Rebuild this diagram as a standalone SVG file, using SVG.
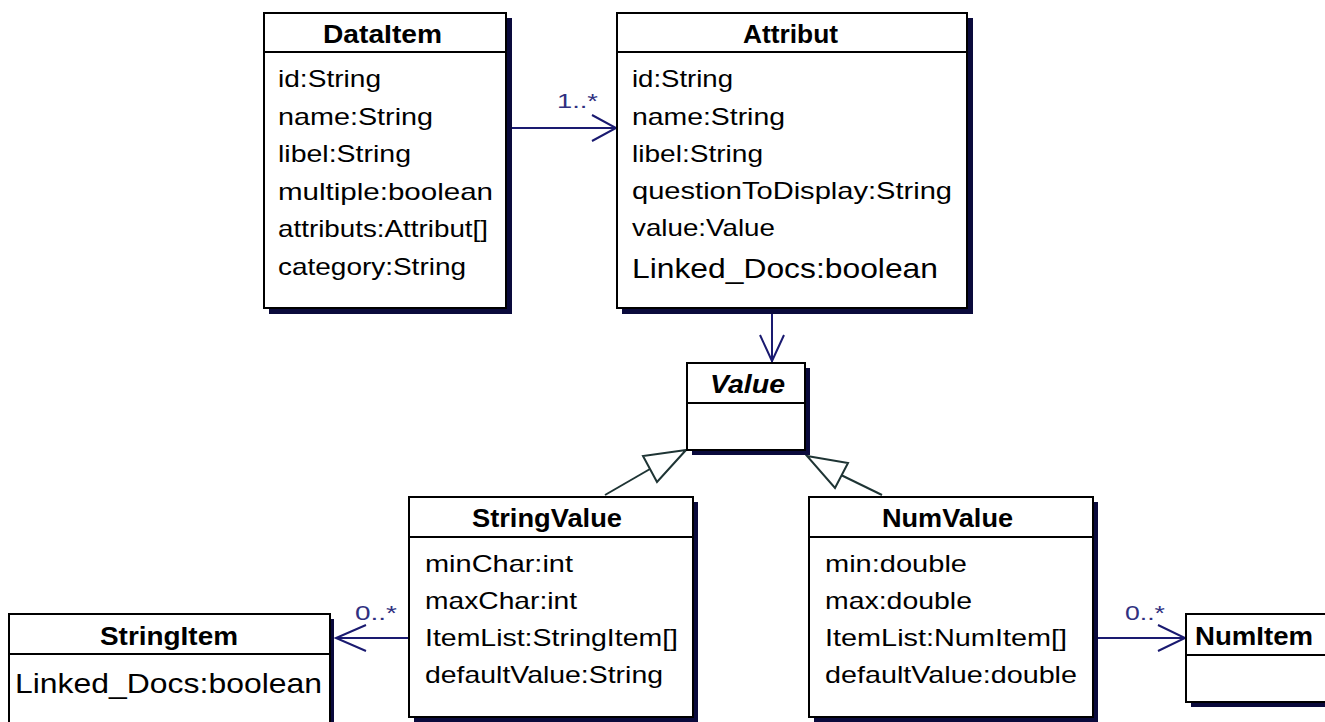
<svg xmlns="http://www.w3.org/2000/svg" width="1325" height="722" viewBox="0 0 1325 722">
<defs>
<style>
.box{fill:#fff;stroke:#000;stroke-width:2}
.sh{fill:#0a0a3c}
.div{stroke:#000;stroke-width:2}
.t{font-family:"Liberation Sans",Arial,sans-serif;font-size:25px;font-weight:bold;fill:#000}
.a{font-family:"Liberation Sans",Arial,sans-serif;font-size:24px;fill:#000}
.b{font-family:"Liberation Sans",Arial,sans-serif;font-size:28px;fill:#000}
.m{font-family:"Liberation Sans",Arial,sans-serif;font-size:20px;fill:#303080}
.assoc{stroke:#1a1a70;stroke-width:2;fill:none}
.gen{stroke:#1e3434;stroke-width:2;fill:none}
.tri{stroke:#1e3434;stroke-width:2;fill:#fff}
</style>
</defs>
<rect width="1325" height="722" fill="#fff"/>

<g id="connectors">
<path class="assoc" d="M512,128 H616 M592,115 L616,128 L592,141"/>
<path class="assoc" d="M772,314 V362 M760,335 L772,361 L784,335"/>
<path class="gen" d="M605,495 L650,469"/>
<polygon class="tri" points="686,450 643,456 657,482"/>
<path class="gen" d="M882,495 L841,475"/>
<polygon class="tri" points="807,456 848,463 835,488"/>
<path class="assoc" d="M409,638 H336 M366,625 L336,638 L366,651"/>
<path class="assoc" d="M1098,638 H1185 M1158,625 L1185,638 L1158,651"/>
<text class="m" x="557" y="108" textLength="41" lengthAdjust="spacingAndGlyphs">1..*</text>
<text class="m" x="355" y="620" textLength="42" lengthAdjust="spacingAndGlyphs">0..*</text>
<text class="m" x="1125" y="620" textLength="40" lengthAdjust="spacingAndGlyphs">0..*</text>
</g>

<g id="DataItem">
<rect class="sh" x="269" y="18" width="243" height="296"/>
<rect class="box" x="264" y="13" width="242" height="295"/>
<line class="div" x1="264" y1="52" x2="506" y2="52"/>
<text class="t" x="323" y="43" textLength="119" lengthAdjust="spacingAndGlyphs">DataItem</text>
<text class="a" x="278" y="87" textLength="103" lengthAdjust="spacingAndGlyphs">id:String</text>
<text class="a" x="278" y="124.5" textLength="155" lengthAdjust="spacingAndGlyphs">name:String</text>
<text class="a" x="278" y="162" textLength="133" lengthAdjust="spacingAndGlyphs">libel:String</text>
<text class="a" x="278" y="199.5" textLength="215" lengthAdjust="spacingAndGlyphs">multiple:boolean</text>
<text class="a" x="278" y="237" textLength="210" lengthAdjust="spacingAndGlyphs">attributs:Attribut[]</text>
<text class="a" x="278" y="274.5" textLength="188" lengthAdjust="spacingAndGlyphs">category:String</text>
</g>

<g id="Attribut">
<rect class="sh" x="622" y="18" width="351" height="296"/>
<rect class="box" x="617" y="13" width="350" height="295"/>
<line class="div" x1="617" y1="52" x2="967" y2="52"/>
<text class="t" x="743" y="43" textLength="95" lengthAdjust="spacingAndGlyphs">Attribut</text>
<text class="a" x="632" y="87" textLength="101" lengthAdjust="spacingAndGlyphs">id:String</text>
<text class="a" x="632" y="124.5" textLength="153" lengthAdjust="spacingAndGlyphs">name:String</text>
<text class="a" x="632" y="162" textLength="131" lengthAdjust="spacingAndGlyphs">libel:String</text>
<text class="a" x="632" y="199" textLength="320" lengthAdjust="spacingAndGlyphs">questionToDisplay:String</text>
<text class="a" x="632" y="236" textLength="143" lengthAdjust="spacingAndGlyphs">value:Value</text>
<text class="b" x="632" y="278" textLength="306" lengthAdjust="spacingAndGlyphs">Linked_Docs:boolean</text>
</g>

<g id="Value">
<rect class="sh" x="692" y="368" width="118" height="87"/>
<rect class="box" x="687" y="363" width="118" height="87"/>
<line class="div" x1="687" y1="403" x2="805" y2="403"/>
<text class="t" x="710" y="393" font-style="italic" textLength="75" lengthAdjust="spacingAndGlyphs">Value</text>
</g>

<g id="StringValue">
<rect class="sh" x="414" y="502" width="284" height="230"/>
<rect class="box" x="409" y="497" width="284" height="220"/>
<line class="div" x1="409" y1="537" x2="693" y2="537"/>
<text class="t" x="472" y="527" textLength="150" lengthAdjust="spacingAndGlyphs">StringValue</text>
<text class="a" x="425" y="572" textLength="148" lengthAdjust="spacingAndGlyphs">minChar:int</text>
<text class="a" x="425" y="609" textLength="152" lengthAdjust="spacingAndGlyphs">maxChar:int</text>
<text class="a" x="425" y="646" textLength="253" lengthAdjust="spacingAndGlyphs">ItemList:StringItem[]</text>
<text class="a" x="425" y="683" textLength="238" lengthAdjust="spacingAndGlyphs">defaultValue:String</text>
</g>

<g id="NumValue">
<rect class="sh" x="814" y="502" width="284" height="230"/>
<rect class="box" x="809" y="497" width="284" height="220"/>
<line class="div" x1="809" y1="537" x2="1093" y2="537"/>
<text class="t" x="882" y="527" textLength="131" lengthAdjust="spacingAndGlyphs">NumValue</text>
<text class="a" x="825" y="572" textLength="142" lengthAdjust="spacingAndGlyphs">min:double</text>
<text class="a" x="825" y="609" textLength="147" lengthAdjust="spacingAndGlyphs">max:double</text>
<text class="a" x="825" y="646" textLength="242" lengthAdjust="spacingAndGlyphs">ItemList:NumItem[]</text>
<text class="a" x="825" y="683" textLength="252" lengthAdjust="spacingAndGlyphs">defaultValue:double</text>
</g>

<g id="StringItem">
<rect class="sh" x="14" y="619" width="320" height="120"/>
<rect class="box" x="9" y="614" width="321" height="115"/>
<line class="div" x1="9" y1="654" x2="330" y2="654"/>
<text class="t" x="100" y="645" textLength="138" lengthAdjust="spacingAndGlyphs">StringItem</text>
<text class="b" x="15" y="693" textLength="307" lengthAdjust="spacingAndGlyphs">Linked_Docs:boolean</text>
</g>

<g id="NumItem">
<rect class="sh" x="1191" y="619" width="150" height="88"/>
<rect class="box" x="1186" y="614" width="150" height="88"/>
<line class="div" x1="1186" y1="655" x2="1336" y2="655"/>
<text class="t" x="1195" y="645" textLength="118" lengthAdjust="spacingAndGlyphs">NumItem</text>
</g>
</svg>
